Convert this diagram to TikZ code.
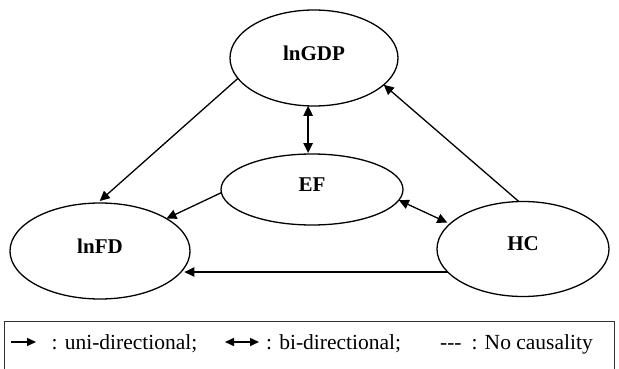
\documentclass[tikz,border=0pt]{standalone}
\usepackage{fontspec}
\setmainfont{Liberation Serif}
\usetikzlibrary{arrows.meta,shapes.geometric}

\tikzset{
  var/.style={draw, ellipse, line width=1.3pt, inner sep=0pt, outer sep=0pt},
  varname/.style={font=\fontsize{21}{25}\selectfont\bfseries, inner sep=0pt},
  link/.style={line width=1.3pt, -{Triangle[length=10pt,width=9.5pt]}},
  both/.style={line width=1.3pt, {Triangle[length=10pt,width=9.5pt]}-{Triangle[length=10pt,width=9.5pt]}},
  keyarrow/.style={line width=1.5pt, -{Triangle[length=9pt,width=8pt]}},
  keyboth/.style={line width=1.5pt, {Triangle[length=9pt,width=8pt]}-{Triangle[length=9pt,width=8pt]}},
  keytext/.style={font=\fontsize{21.5}{25}\selectfont, inner sep=0pt, anchor=base west},
}

\begin{document}
\begin{tikzpicture}[x=1pt, y=-1pt]
\useasboundingbox (0,0) rectangle (619,369);

% variables
\node[var, minimum width=168pt, minimum height=96pt] (gdp) at (314,58) {};
\node[var, minimum width=182pt, minimum height=71pt] (ef) at (312,189.5) {};
\node[var, minimum width=180pt, minimum height=96pt] (fd) at (100,251) {};
\node[var, minimum width=172pt, minimum height=95pt] (hc) at (523,249) {};

\node[varname] (gdpname) at ([yshift=5pt]gdp.center) {lnGDP};
\node[varname] (efname) at ([yshift=5pt]ef.center) {EF};
\node[varname] (fdname) at ([yshift=5pt]fd.center) {lnFD};
\node[varname] (hcname) at ([yshift=5pt]hc.center) {HC};

% causal links
\draw[link, shorten >=3pt] (gdp.195) -- (fd.93);
\draw[both, shorten >=1pt] (gdp.263) -- (gdp.263 |- ef.north);
\draw[link] (ef.182) -- (fd.26.5);
\draw[both, shorten >=3pt] (ef.-7) -- (hc.161.5);
\draw[link] (hc.95) -- (gdp.-21);
\draw[link, shorten >=4pt] (hc.197.6) -- (fd.-15 |- hc.197.6);

% key
\draw[line width=0.9pt, black!80] (4,369) -- (4,321) -- (614,321) -- (614,369);
\coordinate (u1) at (11,342);
\coordinate (u2) at (36,342);
\draw[keyarrow] (u1) -- (u2);
\node[keytext] (unitext) at (51.5,349) {: uni-directional;};
\coordinate (b1) at (225,342);
\coordinate (b2) at (259,342);
\draw[keyboth] (b1) -- (b2);
\node[keytext] (bitext) at (266,349) {: bi-directional;};
\node[keytext, anchor=base east] (nonetext) at (593,349) {-{}-{}-\hspace{10pt}: No causality};
\end{tikzpicture}
\end{document}
